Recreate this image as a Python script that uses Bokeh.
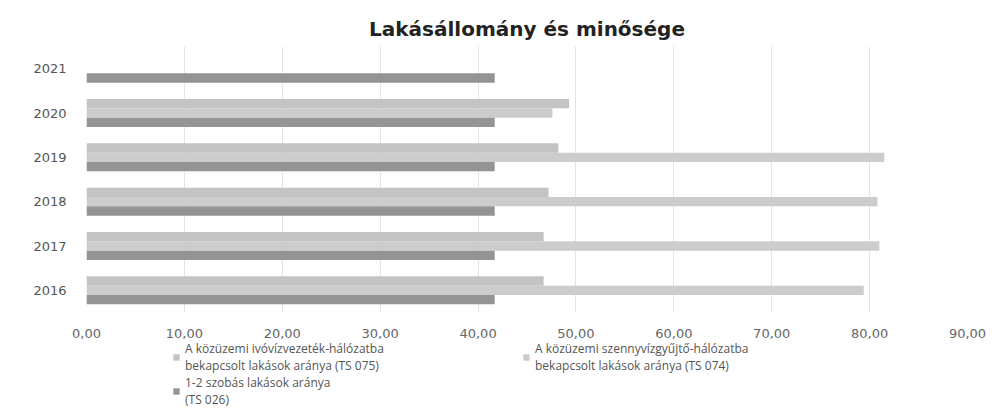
from bokeh.plotting import figure
from bokeh.layouts import column
from bokeh.models import ColumnDataSource, FactorRange, Range1d, Legend, LegendItem, FixedTicker
from bokeh.transform import dodge
from bokeh.embed import file_html
from bokeh.resources import INLINE

years = ["2016", "2017", "2018", "2019", "2020", "2021"]
ts075 = [46.7, 46.7, 47.2, 48.2, 49.3, None]
ts074 = [79.4, 81.0, 80.8, 81.5, 47.6, None]
ts026 = [41.7, 41.7, 41.7, 41.7, 41.7, 41.7]
x_ticks = [0, 10, 20, 30, 40, 50, 60, 70, 80, 90]
x_tick_labels = ["0,00", "10,00", "20,00", "30,00", "40,00", "50,00", "60,00", "70,00", "80,00", "90,00"]
series_labels = [
    "A közüzemi ivóvízvezeték-hálózatba\nbekapcsolt lakások aránya (TS 075)",
    "A közüzemi szennyvízgyűjtő-hálózatba\nbekapcsolt lakások aránya (TS 074)",
    "1-2 szobás lakások aránya\n(TS 026)",
]
title_text = "Lakásállomány és minősége"

colors = ["#c3c3c3", "#cccccc", "#949494"]
offsets = [0.21, 0.0, -0.21]

p = figure(
    width=989, height=340,
    y_range=FactorRange(factors=years, range_padding=0),
    x_range=Range1d(0, 90),
    output_backend="svg", toolbar_location=None,
    min_border_left=86, min_border_right=22, min_border_top=46, min_border_bottom=26,
    background_fill_color="white", border_fill_color="white",
)
p.outline_line_color = None

p.title.text = title_text
p.title.align = "center"
p.title.text_font = "DejaVu Sans"
p.title.text_font_style = "bold"
p.title.text_font_size = "20px"
p.title.text_color = "#222222"
p.title.offset = -17
p.title.standoff = 11

for vals, col, off in zip([ts075, ts074, ts026], colors, offsets):
    ys = [y for y, v in zip(years, vals) if v is not None]
    xs = [v for v in vals if v is not None]
    src = ColumnDataSource(dict(year=ys, val=xs))
    p.hbar(y=dodge("year", off, range=p.y_range), right="val", left=0, height=0.21,
           source=src, fill_color=col, line_color=None)

p.xaxis.ticker = FixedTicker(ticks=x_ticks)
p.xaxis.major_label_overrides = {t: l for t, l in zip(x_ticks, x_tick_labels)}
p.xaxis.axis_line_color = None
p.xaxis.major_tick_line_color = None
p.xaxis.minor_tick_line_color = None
p.xaxis.major_label_text_font = "DejaVu Sans"
p.xaxis.major_label_text_font_size = "13px"
p.xaxis.major_label_text_color = "#666666"
p.xaxis.major_label_standoff = 10

p.yaxis.axis_line_color = None
p.yaxis.major_tick_line_color = None
p.yaxis.minor_tick_line_color = None
p.yaxis.major_label_text_font = "DejaVu Sans"
p.yaxis.major_label_text_font_size = "13px"
p.yaxis.major_label_text_color = "#555555"
p.yaxis.major_label_standoff = 14

p.xgrid.ticker = FixedTicker(ticks=x_ticks)
p.xgrid.grid_line_color = "#e4e4e4"
p.ygrid.grid_line_color = None

# legend-only figure beneath the chart (its placeholder bars lie outside its visible range)
lf = figure(width=989, height=68, x_range=Range1d(0, 1), y_range=Range1d(0, 1),
            x_axis_type=None, y_axis_type=None, output_backend="svg", toolbar_location=None,
            min_border=0, background_fill_color="white", border_fill_color="white")
lf.outline_line_color = None
lf.xgrid.visible = False
lf.ygrid.visible = False
legend_renderers = []
for col in colors:
    r = lf.hbar(y=[-5], right=[1], left=0, height=0.2, fill_color=col, line_color=None)
    legend_renderers.append(r)

items = [LegendItem(label=lab, renderers=[r]) for lab, r in zip(series_labels, legend_renderers)]
legend = Legend(items=items, orientation="horizontal", ncols=2,
                location=(86, 0), label_width=337,
                label_text_font="Open Sans", label_text_font_size="12px",
                label_text_color="#555555", label_height=10,
                glyph_width=8, glyph_height=8, label_standoff=5, spacing=0,
                padding=0, margin=0, border_line_color=None, background_fill_alpha=0)
lf.add_layout(legend, "center")

layout = column(p, lf, spacing=0)
open("out.html", "w").write(file_html(layout, INLINE))
